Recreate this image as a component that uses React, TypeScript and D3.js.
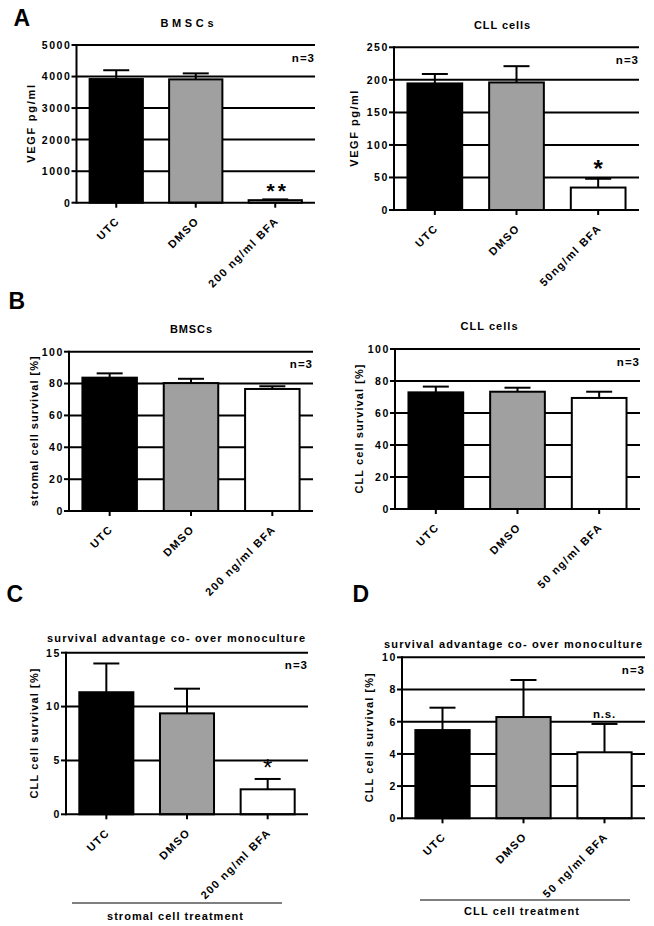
import React from "react";
import * as d3 from "d3";

// ---------- data ----------
const labelsA1 = ["UTC", "DMSO", "200 ng/ml BFA"];
const valuesA1 = [3920, 3910, 80];
const errorsA1 = [280, 190, 25];
const ticksA1 = [0, 1000, 2000, 3000, 4000, 5000];

const labelsA2 = ["UTC", "DMSO", "50ng/ml BFA"];
const valuesA2 = [194.5, 196, 34.5];
const errorsA2 = [14.5, 25, 13.5];
const ticksA2 = [0, 50, 100, 150, 200, 250];

const labelsB1 = ["UTC", "DMSO", "200 ng/ml BFA"];
const valuesB1 = [83.7, 80.3, 76.6];
const errorsB1 = [2.7, 2.7, 1.7];
const ticksB1 = [0, 20, 40, 60, 80, 100];

const labelsB2 = ["UTC", "DMSO", "50 ng/ml BFA"];
const valuesB2 = [72.9, 73.3, 69.4];
const errorsB2 = [3.6, 2.5, 3.9];
const ticksB2 = [0, 20, 40, 60, 80, 100];

const labelsC = ["UTC", "DMSO", "200 ng/ml BFA"];
const valuesC = [11.33, 9.37, 2.32];
const errorsC = [2.67, 2.29, 0.96];
const ticksC = [0, 5, 10, 15];

const labelsD = ["UTC", "DMSO", "50 ng/ml BFA"];
const valuesD = [5.48, 6.29, 4.1];
const errorsD = [1.39, 2.3, 1.76];
const ticksD = [0, 2, 4, 6, 8, 10];

const barFills = ["#000000", "#a0a0a0", "#ffffff"];

const FONT = "'Liberation Sans', Arial, Helvetica, sans-serif";

type Sig = { text: string; size: number; weight: string; spacing: number; center: number };

type PanelCfg = {
  labels: string[];
  values: number[];
  errors: number[];
  ticks: number[];
  left: number;
  right: number;
  top: number;
  bottom: number;
  title: string;
  titleX: number;
  titleY: number;
  titleLen: number;
  ylabel: string;
  ylabelX: number;
  ylabelLen: number;
  sig?: Sig;
};

const panels: PanelCfg[] = [
  {
    labels: labelsA1, values: valuesA1, errors: errorsA1, ticks: ticksA1,
    left: 76.5, right: 315, top: 45, bottom: 202.7,
    title: "BMSCs", titleX: 187, titleY: 26.7, titleLen: 53,
    ylabel: "VEGF pg/ml", ylabelX: 35, ylabelLen: 78,
    sig: { text: "**", size: 21, weight: "bold", spacing: 3, center: 14 },
  },
  {
    labels: labelsA2, values: valuesA2, errors: errorsA2, ticks: ticksA2,
    left: 394, right: 639, top: 47.3, bottom: 210,
    title: "CLL cells", titleX: 502, titleY: 29, titleLen: 56,
    ylabel: "VEGF pg/ml", ylabelX: 358, ylabelLen: 76,
    sig: { text: "*", size: 24, weight: "bold", spacing: 0, center: 16 },
  },
  {
    labels: labelsB1, values: valuesB1, errors: errorsB1, ticks: ticksB1,
    left: 69, right: 313, top: 351.7, bottom: 511,
    title: "BMSCs", titleX: 191, titleY: 332.7, titleLen: 42,
    ylabel: "stromal cell survival [%]", ylabelX: 37.5, ylabelLen: 150,
  },
  {
    labels: labelsB2, values: valuesB2, errors: errorsB2, ticks: ticksB2,
    left: 395, right: 640, top: 349, bottom: 509,
    title: "CLL cells", titleX: 489, titleY: 330, titleLen: 57,
    ylabel: "CLL cell survival [%]", ylabelX: 363, ylabelLen: 129,
  },
  {
    labels: labelsC, values: valuesC, errors: errorsC, ticks: ticksC,
    left: 66, right: 308, top: 652.7, bottom: 814.3,
    title: "survival advantage co- over monoculture", titleX: 176, titleY: 642, titleLen: 258,
    ylabel: "CLL cell survival [%]", ylabelX: 38, ylabelLen: 130,
    sig: { text: "*", size: 24, weight: "normal", spacing: 0, center: 16.5 },
  },
  {
    labels: labelsD, values: valuesD, errors: errorsD, ticks: ticksD,
    left: 402, right: 645, top: 657.3, bottom: 818.3,
    title: "survival advantage co- over monoculture", titleX: 513, titleY: 648, titleLen: 258,
    ylabel: "CLL cell survival [%]", ylabelX: 373, ylabelLen: 129,
    sig: { text: "n.s.", size: 11.5, weight: "bold", spacing: 0.8, center: 10 },
  },
];

function Panel({ cfg }: { cfg: PanelCfg }) {
  const { labels, values, errors, ticks, left, right, top, bottom } = cfg;
  const x = d3.scaleBand<string>().domain(labels).range([left, right]).paddingInner(0.33).paddingOuter(0.165);
  const y = d3.scaleLinear().domain([0, d3.max(ticks) as number]).range([bottom, top]);
  const bw = x.bandwidth();
  const capHalf = 13;
  const last = labels.length - 1;
  const sigCx = (x(labels[last]) as number) + bw / 2;
  const sigTopY = y(values[last] + errors[last]);
  const sig = cfg.sig;
  const sigBaseline = sig
    ? sig.text === "n.s."
      ? sigTopY - 6
      : sigTopY - sig.center + sig.size * 0.58
    : 0;

  return (
    <g fontFamily={FONT} fontWeight="bold">
      {/* gridlines */}
      {ticks.filter((t) => t > 0).map((t) => (
        <line key={"g" + t} x1={left} x2={right} y1={y(t)} y2={y(t)} stroke="#000" strokeWidth={2} />
      ))}
      {/* bars */}
      {labels.map((l, i) => (
        <rect key={"b" + l} x={x(l)} y={y(values[i])} width={bw} height={bottom - y(values[i])}
          fill={barFills[i]} stroke="#000" strokeWidth={2} />
      ))}
      {/* error bars */}
      {labels.map((l, i) => {
        const cx = (x(l) as number) + bw / 2;
        const yt = y(values[i] + errors[i]);
        return (
          <g key={"e" + l} stroke="#000" strokeWidth={2}>
            <line x1={cx} x2={cx} y1={y(values[i])} y2={yt} />
            <line x1={cx - capHalf} x2={cx + capHalf} y1={yt} y2={yt} />
          </g>
        );
      })}
      {/* y axis */}
      <line x1={left} x2={left} y1={top - 1} y2={bottom + 1} stroke="#000" strokeWidth={2} />
      {ticks.map((t) => (
        <g key={"yt" + t}>
          <line x1={left - 5} x2={left} y1={y(t)} y2={y(t)} stroke="#000" strokeWidth={2} />
          <text x={left - 5} y={y(t) + 3.9} textAnchor="end" fontSize={10.5} letterSpacing={1.6}>{t}</text>
        </g>
      ))}
      {/* x axis */}
      <line x1={left} x2={right} y1={bottom} y2={bottom} stroke="#000" strokeWidth={2} />
      {labels.map((l) => {
        const cx = (x(l) as number) + bw / 2;
        return (
          <g key={"xt" + l}>
            <line x1={cx} x2={cx} y1={bottom} y2={bottom + 5} stroke="#000" strokeWidth={2} />
            <text transform={`translate(${cx + 4},${bottom + 19}) rotate(-45)`} textAnchor="end"
              fontSize={11} letterSpacing={1.4}>{l}</text>
          </g>
        );
      })}
      {/* title */}
      <text x={cfg.titleX} y={cfg.titleY} textAnchor="middle" fontSize={11}
        textLength={cfg.titleLen} lengthAdjust="spacing">{cfg.title}</text>
      {/* n=3 */}
      <text x={right} y={top + 16.5} textAnchor="end" fontSize={11.5} letterSpacing={1}>n=3</text>
      {/* y label */}
      <text transform={`translate(${cfg.ylabelX},${(top + bottom) / 2}) rotate(-90)`} textAnchor="middle"
        fontSize={11} textLength={cfg.ylabelLen} lengthAdjust="spacing">{cfg.ylabel}</text>
      {/* significance */}
      {sig && (
        <text x={sigCx + (sig.spacing > 0 && sig.text === "**" ? sig.spacing / 2 + 1 : 0)} y={sigBaseline}
          textAnchor="middle" fontSize={sig.size} fontWeight={sig.weight} letterSpacing={sig.spacing}>
          {sig.text}
        </text>
      )}
    </g>
  );
}

export default function App() {
  return (
    <svg width={654} height={926} style={{ position: "absolute", left: 0, top: 0, background: "#fff" }}>
      <rect x={0} y={0} width={654} height={926} fill="#fff" />
      {panels.map((p, i) => (
        <Panel key={i} cfg={p} />
      ))}
      <g fontFamily={FONT} fontSize={23} fontWeight="bold">
        <text x={13.5} y={25.7}>A</text>
        <text x={8.5} y={309}>B</text>
        <text x={6.5} y={602}>C</text>
        <text x={352.5} y={602}>D</text>
      </g>
      <g fontFamily={FONT} fontWeight="bold" fontSize={11}>
        <line x1={72} x2={282} y1={903} y2={903} stroke="#000" strokeWidth={1} />
        <text x={175} y={920} textAnchor="middle" textLength={136} lengthAdjust="spacing">stromal cell treatment</text>
        <line x1={420} x2={630} y1={900} y2={900} stroke="#000" strokeWidth={1} />
        <text x={521.5} y={915} textAnchor="middle" textLength={115} lengthAdjust="spacing">CLL cell treatment</text>
      </g>
    </svg>
  );
}
